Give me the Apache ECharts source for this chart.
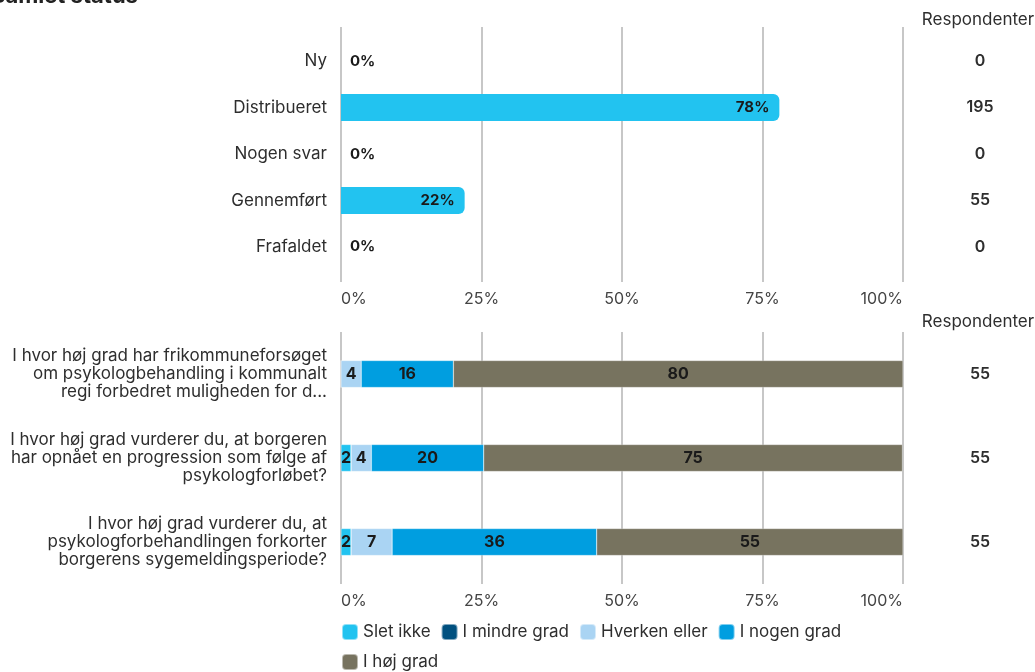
<!DOCTYPE html>
<html><head><meta charset="utf-8">
<script src="https://cdn.jsdelivr.net/npm/echarts@6/dist/echarts.min.js"></script>
<style>html,body{margin:0;padding:0;background:#fff;overflow:hidden}#c{width:1035px;height:672px}</style>
</head><body><div id="c"></div>
<script>
const chartTitle = 'Samlet status';
const respHeader = 'Respondenter';
const statusCategories = ['Ny', 'Distribueret', 'Nogen svar', 'Gennemført', 'Frafaldet'];
const statusPercent = [0, 78, 0, 22, 0];
const statusRespondents = [0, 195, 0, 55, 0];
const questions = [
  'I hvor høj grad har frikommuneforsøget\nom psykologbehandling i kommunalt\nregi forbedret muligheden for d...',
  'I hvor høj grad vurderer du, at borgeren\nhar opnået en progression som følge af\npsykologforløbet?',
  'I hvor høj grad vurderer du, at\npsykologforbehandlingen forkorter\nborgerens sygemeldingsperiode?'
];
const questionRespondents = [55, 55, 55];
const answerNames = ['Slet ikke', 'I mindre grad', 'Hverken eller', 'I nogen grad', 'I høj grad'];
const sletIkke = [0, 1.8, 1.8];
const iMindreGrad = [0, 0, 0];
const hverkenEller = [3.6, 3.6, 7.3];
const iNogenGrad = [16.4, 20, 36.4];
const iHojGrad = [80, 74.5, 54.5];
const percentTicks = [0, 25, 50, 75, 100];

const answerValues = [sletIkke, iMindreGrad, hverkenEller, iNogenGrad, iHojGrad];
const answerColors = ['#22c3f0', '#00507f', '#aad4f3', '#009ee0', '#77735f'];
const FONT = 'Inter';
const FS = 16;
const FS_CAT = 17;
const TXT = '#2e2e2e';

const L = 341, W = 562;
const chart = echarts.init(document.getElementById('c'), null, {renderer: 'canvas'});

const pctAxisLabel = {
  formatter: v => v + '%', color: '#444', fontFamily: FONT, fontSize: FS, margin: 9,
  alignMinLabel: 'left', alignMaxLabel: 'right'
};
const gridLine = {show: true, lineStyle: {color: '#b5b5b5', width: 1.5}};

const option = {
  animation: false,
  textStyle: {fontFamily: FONT},
  grid: [
    {left: L, width: W, top: 38, height: 232},
    {left: L, width: W, top: 27, height: 255},
    {left: L, width: W, top: 332, height: 252}
  ],
  xAxis: [
    {gridIndex: 0, type: 'value', min: percentTicks[0], max: percentTicks[percentTicks.length - 1], show: false},
    {gridIndex: 1, type: 'value', min: percentTicks[0], max: percentTicks[percentTicks.length - 1], interval: percentTicks[1] - percentTicks[0],
      axisLine: {show: false}, axisTick: {show: false}, splitLine: gridLine, axisLabel: pctAxisLabel},
    {gridIndex: 2, type: 'value', min: percentTicks[0], max: percentTicks[percentTicks.length - 1], interval: percentTicks[1] - percentTicks[0],
      axisLine: {show: false}, axisTick: {show: false}, splitLine: gridLine, axisLabel: pctAxisLabel}
  ],
  yAxis: [
    {gridIndex: 0, type: 'category', inverse: true, data: statusCategories,
      axisLine: {show: false}, axisTick: {show: false},
      axisLabel: {color: TXT, fontFamily: FONT, fontSize: FS_CAT, margin: 14}},
    {gridIndex: 0, type: 'category', inverse: true, position: 'right', data: statusRespondents.map(String),
      axisLine: {show: false}, axisTick: {show: false},
      axisLabel: {color: TXT, fontFamily: FONT, fontSize: FS, fontWeight: 600, margin: 77, align: 'center'}},
    {gridIndex: 1, type: 'value', show: false},
    {gridIndex: 2, type: 'category', inverse: true, data: questions,
      axisLine: {show: false}, axisTick: {show: false},
      axisLabel: {color: TXT, fontFamily: FONT, fontSize: FS_CAT, margin: 14, lineHeight: 18, align: 'right'}},
    {gridIndex: 2, type: 'category', inverse: true, position: 'right', data: questionRespondents.map(String),
      axisLine: {show: false}, axisTick: {show: false},
      axisLabel: {color: TXT, fontFamily: FONT, fontSize: FS, fontWeight: 600, margin: 77, align: 'center'}}
  ],
  legend: {
    left: L, top: 622, width: 565, padding: 0, itemWidth: 16, itemHeight: 16, itemGap: 10,
    icon: 'roundRect',
    data: answerNames,
    textStyle: {color: TXT, fontFamily: FONT, fontSize: FS_CAT, lineHeight: 20}
  },
  graphic: [
    {type: 'text', x: -9, y: 7, style: {text: chartTitle, font: 'bold 22px "' + FONT + '"', fill: '#222', verticalAlign: 'bottom'}},
    {type: 'text', x: 978, y: 20, style: {text: respHeader, font: FS_CAT + 'px "' + FONT + '"', fill: TXT, align: 'center', verticalAlign: 'middle'}},
    {type: 'text', x: 978, y: 322, style: {text: respHeader, font: FS_CAT + 'px "' + FONT + '"', fill: TXT, align: 'center', verticalAlign: 'middle'}}
  ],
  series: [
    {
      type: 'bar', xAxisIndex: 0, yAxisIndex: 0, barWidth: 27,
      itemStyle: {color: answerColors[0], borderRadius: [0, 6, 6, 0]},
      data: statusPercent.map(v => ({
        value: v,
        label: v > 0
          ? {show: true, position: 'insideRight', distance: 10, formatter: '{c}%', color: '#1a1a1a', fontWeight: 'bold', fontSize: 15, fontFamily: FONT}
          : {show: true, position: 'right', distance: 9, formatter: '{c}%', color: '#1a1a1a', fontWeight: 'bold', fontSize: 15, fontFamily: FONT}
      }))
    },
    ...answerNames.map((name, i) => ({
      name, type: 'bar', stack: 'q', xAxisIndex: 2, yAxisIndex: 3, barWidth: 27,
      itemStyle: {color: answerColors[i], borderColor: 'rgba(255,255,255,0.5)', borderWidth: 0.5},
      label: {show: true, position: 'inside', color: '#1a1a1a', fontWeight: 'bold', fontSize: 16, fontFamily: FONT,
        formatter: p => p.value > 0 ? String(Math.round(p.value)) : ''},
      data: answerValues[i]
    }))
  ]
};
chart.setOption(option);
</script>
</body></html>
